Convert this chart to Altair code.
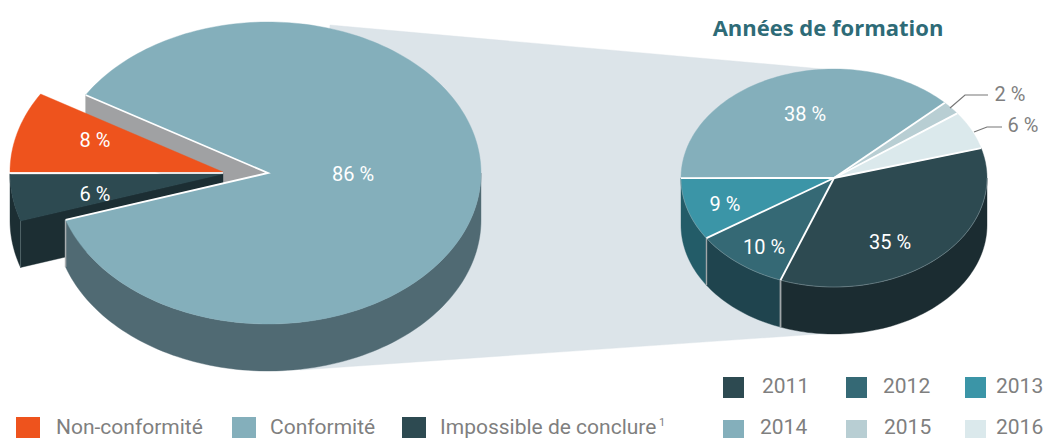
import math
import altair as alt
import pandas as pd

# ---------- data ----------
main_names = ["Conformité", "Impossible de conclure", "Non-conformité"]
main_labels = ["86 %", "6 %", "8 %"]
main_shares = [86.33, 5.0, 8.67]          # drawn share of the circle
main_colors = ["#84afbb", "#2d4a51", "#ee531d"]
main_walls = ["#506a73", "#1c2e33", None]

years = ["2011", "2012", "2013", "2014", "2015", "2016"]
year_labels = ["35 %", "10 %", "9 %", "38 %", "2 %", "6 %"]
year_shares = [35.1, 10.0, 9.3, 37.9, 2.0, 5.7]
year_colors = ["#2d4a51", "#356975", "#3b95a7", "#84afbb", "#b8ced3", "#dbe9ec"]
year_walls = ["#1b2c31", "#1f444e", "#235c68", None, None, None]

title_text = "Années de formation"
legend_main = ["Non-conformité", "Conformité", "Impossible de conclure"]
legend_main_colors = ["#ee531d", "#84afbb", "#2d4a51"]

# ---------- layout ----------
W, H = 1037, 430
XS = alt.Scale(domain=[8, 8 + W], nice=False, zero=False)
YS = alt.Scale(domain=[8 + H, 8], nice=False, zero=False)
X = alt.X("x:Q", scale=XS, axis=None)
Y = alt.Y("y:Q", scale=YS, axis=None)
X2 = alt.X2("x2:Q")
Y2 = alt.Y2("y2:Q")

BIG = dict(cx=268, cy=173, rx=213, ry=151, d=47)
SIDE = dict(cx=834, cy=178, rx=153, ry=109, d=47)


def pt(p, t, dy=0, dx=0):
    a = math.radians(t)
    return (p["cx"] + dx + p["rx"] * math.cos(a), p["cy"] + dy - p["ry"] * math.sin(a))


def arc(p, t0, t1, dy=0, dx=0):
    n = max(2, int(abs(t1 - t0) / 1.5) + 1)
    return [pt(p, t0 + (t1 - t0) * i / (n - 1), dy, dx) for i in range(n)]


def poly(points, color, edge=0.4):
    df = pd.DataFrame(points, columns=["x", "y"])
    df["i"] = range(len(df))
    return alt.Chart(df).mark_line(
        interpolate="linear-closed", fill=color, stroke=color, strokeWidth=edge
    ).encode(x=X, y=Y, order=alt.Order("i:Q"))


def seg(points, color, width):
    df = pd.DataFrame(points, columns=["x", "y"])
    df["i"] = range(len(df))
    return alt.Chart(df).mark_line(color=color, strokeWidth=width).encode(
        x=X, y=Y, order=alt.Order("i:Q")
    )


def wedge(p, t0, t1, dx=0, dy=0):
    return [(p["cx"] + dx, p["cy"] + dy)] + arc(p, t0, t1, dy, dx)


def text(label, x, y, color="white", size=20, align="center", font="Roboto", weight=400):
    df = pd.DataFrame({"x": [x], "y": [y], "t": [label]})
    return alt.Chart(df).mark_text(
        color=color, fontSize=size, align=align, baseline="alphabetic",
        font=font, fontWeight=weight
    ).encode(x=X, y=Y, text="t:N")


def rect(x, y, w, h, color):
    df = pd.DataFrame({"x": [x], "x2": [x + w], "y": [y], "y2": [y + h]})
    return alt.Chart(df).mark_rect(color=color).encode(x=X, x2=X2, y=Y, y2=Y2)


layers = []

# connector band between the two pies
layers.append(poly([(330, 25), (834, 70), (834, 333), (300, 370)], "#dce4e9"))

# ---------- main pie ----------
start = 148.9
sweeps = [s * 3.6 for s in main_shares]
t_big0, t_big1 = start, start - sweeps[0]
t_dark0, t_dark1 = t_big1, t_big1 - sweeps[1]
t_or0, t_or1 = t_dark1, t_dark1 - sweeps[2]

# grey inner wall of the cut
a = pt(BIG, t_big0)
layers.append(poly([a, (BIG["cx"], BIG["cy"]), (BIG["cx"], BIG["cy"] + 47), (a[0], a[1] + 47)], "#a0a1a3"))

# pulled-out dark slice
EX = -45
rim_dark = pt(BIG, t_dark0, 0.5, EX)
layers.append(poly(arc(BIG, t_dark1, t_dark0, 0.5, EX) + arc(BIG, t_dark0, t_dark1, 47.5, EX), main_walls[1]))
layers.append(poly([rim_dark, (BIG["cx"] + EX, BIG["cy"] + 0.5), (BIG["cx"] + EX, BIG["cy"] + 47.5),
                    (rim_dark[0], rim_dark[1] + 47)], main_walls[1]))
layers.append(seg([rim_dark, (rim_dark[0], rim_dark[1] + 47)], "#5f7176", 0.7))
layers.append(poly(wedge(BIG, t_dark0, t_dark1, EX, 1), main_colors[1]))
layers.append(poly(wedge(BIG, t_or0, t_or1, EX, -1), main_colors[2]))
layers.append(seg([pt(BIG, 180, 0, EX), (BIG["cx"] + EX, BIG["cy"])], "white", 1.6))

# big slice wall and top
layers.append(poly(arc(BIG, t_big1, 0) + arc(BIG, 0, t_big1, 47), main_walls[0]))
low = pt(BIG, t_big1)
layers.append(seg([low, (low[0], low[1] + 47)], "#a8adaf", 1.5))
layers.append(poly(wedge(BIG, t_big0, t_big1), main_colors[0]))
layers.append(seg([pt(BIG, t_big0), (BIG["cx"], BIG["cy"]), low], "white", 1.8))

# ---------- years pie ----------
t = 15.9
edges = [t]
for s in year_shares:
    t -= s * 3.6
    edges.append(t)

for i in range(3):
    lo = max(edges[i + 1], -180)
    hi = min(edges[i], 0)
    layers.append(poly(arc(SIDE, hi, lo) + arc(SIDE, lo, hi, 47), year_walls[i]))
for i in range(6):
    layers.append(poly(wedge(SIDE, edges[i], edges[i + 1]), year_colors[i]))
layers.append(seg(arc(SIDE, 0, -180), "#8ea3a8", 0.5))
for i in (1, 2):
    b = pt(SIDE, edges[i])
    layers.append(seg([b, (b[0], b[1] + 47)], "#a0a6a8", 1.8 if i == 1 else 1.4))
for e in edges[:-1]:
    layers.append(seg([(SIDE["cx"], SIDE["cy"]), pt(SIDE, e)], "white", 1.9))

# leader lines
layers.append(seg([(950, 108), (965, 95), (988, 95)], "#777777", 1.2))
layers.append(seg([(974, 132), (987, 127), (1002, 127)], "#777777", 1.2))

# ---------- texts ----------
layers.append(text(main_labels[0], 353, 181))
layers.append(text(main_labels[1], 95, 201))
layers.append(text(main_labels[2], 95, 147))
for lab, x, y in zip(year_labels[:4], [890, 764, 725, 805], [249, 254, 211, 121]):
    layers.append(text(lab, x, y))
layers.append(text(year_labels[4], 1010, 101, "#7f7f7f", 20))
layers.append(text(year_labels[5], 1023, 132, "#7f7f7f", 20))
layers.append(text(title_text, 828, 36, "#2e6b77", 22, font="Open Sans", weight=700))

# ---------- legends ----------
for c, sx, lab, tx in zip(legend_main_colors, [16, 232, 402], legend_main, [56, 270, 440]):
    layers.append(rect(sx, 417, 24, 21, c))
    layers.append(text(lab, tx, 434, "#7f7f7f", 21, "left"))
layers.append(text("1", 659, 426, "#7f7f7f", 11, "left"))

for i, (yr, c) in enumerate(zip(years, year_colors)):
    row, col = i // 3, i % 3
    sx = [723, 846, 965][col]
    sy = [377, 420][row]
    tx = [[762, 883, 996], [760, 884, 996]][row][col]
    by = [393, 434][row]
    layers.append(rect(sx, sy, 21, 21, c))
    layers.append(text(yr, tx, by, "#7f7f7f", 21, "left"))

chart = alt.layer(*layers).properties(
    width=W, height=H, padding=0, autosize=alt.AutoSizeParams(type="none")
).configure_view(stroke=None)

chart.save("out.html", embed_options={"renderer": "svg", "actions": False})
